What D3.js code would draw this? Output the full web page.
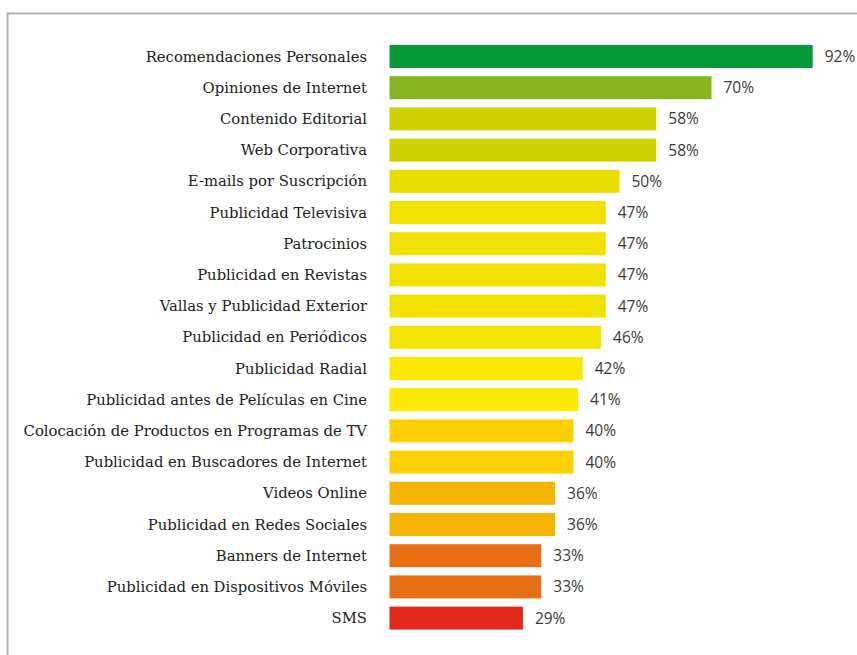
<!DOCTYPE html>
<html>
<head>
<meta charset="utf-8">
<script src="https://cdn.jsdelivr.net/npm/d3@7"></script>
<style>
  body { margin: 0; background: #fff; }
  .cat { font-family: "DejaVu Serif", serif; font-size: 14.8px; fill: #222; }
  .val { font-family: "Open Sans", sans-serif; font-size: 15.5px; fill: #3a3a3a; }
</style>
</head>
<body>
<div id="vis"></div>
<script>
// Frame constants
const FRAME_WIDTH = 857;
const FRAME_HEIGHT = 655;
const BAR_LEFT = 389.5;

// Data
const categories = [
  "Recomendaciones Personales", "Opiniones de Internet", "Contenido Editorial",
  "Web Corporativa", "E-mails por Suscripción", "Publicidad Televisiva",
  "Patrocinios", "Publicidad en Revistas", "Vallas y Publicidad Exterior",
  "Publicidad en Periódicos", "Publicidad Radial",
  "Publicidad antes de Películas en Cine",
  "Colocación de Productos en Programas de TV",
  "Publicidad en Buscadores de Internet", "Videos Online",
  "Publicidad en Redes Sociales", "Banners de Internet",
  "Publicidad en Dispositivos Móviles", "SMS"
];
const values = [92, 70, 58, 58, 50, 47, 47, 47, 47, 46, 42, 41, 40, 40, 36, 36, 33, 33, 29];
const colors = [
  "#069a36", "#85b41f", "#cfd102", "#cfd102", "#e9dd00", "#f1e101",
  "#f1e101", "#f1e101", "#f1e101", "#f3e300", "#fbe902", "#fcea02",
  "#fdd100", "#fdd100", "#f5b402", "#f5b402", "#e86e14", "#e86e14", "#e2271d"
];

const svg = d3.select("#vis")
  .append("svg")
    .attr("width", FRAME_WIDTH)
    .attr("height", FRAME_HEIGHT);

// Frame border (top and left)
svg.append("path")
  .attr("d", "M7.5," + FRAME_HEIGHT + "V13.5H" + FRAME_WIDTH)
  .attr("fill", "none")
  .attr("stroke", "#b4b4b4")
  .attr("stroke-width", 2);

// Scales
const X_SCALE = d3.scaleLinear()
  .domain([0, 100])
  .range([BAR_LEFT, BAR_LEFT + 460]);

const Y_SCALE = d3.scaleBand()
  .domain(categories)
  .range([40.9, 40.9 + 19 * 31.2])
  .paddingInner(0.263)
  .paddingOuter(0.1315);

const rows = categories.map((c, i) => ({cat: c, val: values[i], color: colors[i]}));

// Bars
svg.selectAll(".bar")
  .data(rows)
  .enter()
  .append("rect")
    .attr("class", "bar")
    .attr("x", X_SCALE(0))
    .attr("y", d => Y_SCALE(d.cat))
    .attr("width", d => X_SCALE(d.val) - X_SCALE(0))
    .attr("height", Y_SCALE.bandwidth())
    .attr("fill", d => d.color);

// Category labels
svg.selectAll(".cat")
  .data(rows)
  .enter()
  .append("text")
    .attr("class", "cat")
    .attr("x", 367)
    .attr("y", d => Y_SCALE(d.cat) + Y_SCALE.bandwidth() / 2)
    .attr("dy", "0.35em")
    .attr("text-anchor", "end")
    .text(d => d.cat);

// Value labels
svg.selectAll(".val")
  .data(rows)
  .enter()
  .append("text")
    .attr("class", "val")
    .attr("x", d => X_SCALE(d.val) + 12)
    .attr("y", d => Y_SCALE(d.cat) + Y_SCALE.bandwidth() / 2)
    .attr("dy", "0.35em")
    .text(d => d.val + "%");
</script>
</body>
</html>
